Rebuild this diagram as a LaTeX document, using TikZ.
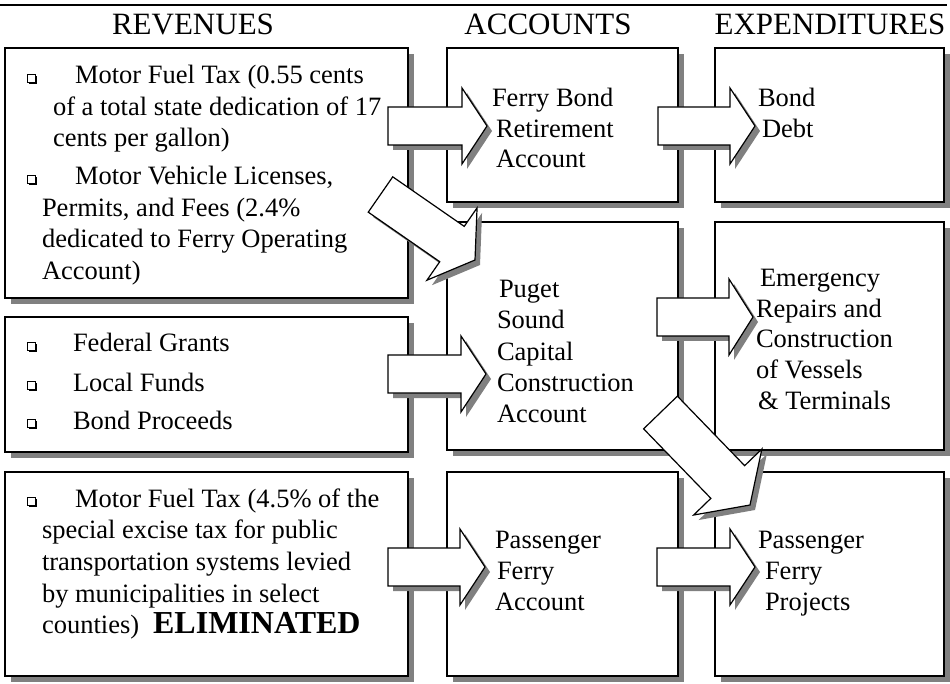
\documentclass[tikz,border=0pt]{standalone}
\usepackage{fontspec}
\setmainfont{Liberation Serif}
\usetikzlibrary{calc}
\definecolor{shadowgray}{RGB}{128,128,128}

% Block arrow from a tail midpoint to a tip:
% #1 id, #2 tail, #3 tip, #4 shaft half width, #5 head half width, #6 head length
\newcommand\blockarrow[6]{%
  \coordinate (#1b) at ($(#3)!#6!(#2)$);
  \path[arrowbody]
    ($(#2)!#4!90:(#3)$) -- ($(#1b)!#4!90:(#3)$) -- ($(#1b)!#5!90:(#3)$) --
    (#3) --
    ($(#1b)!#5!-90:(#3)$) -- ($(#1b)!#4!-90:(#3)$) -- ($(#2)!#4!-90:(#3)$) -- cycle;
}

\begin{document}
\begin{tikzpicture}[x=1pt, y=-1pt,
  every node/.style={inner sep=0pt, outer sep=0pt},
  castshadow/.style={preaction={fill=shadowgray, draw=none,
      transform canvas={shift={(#1,-#1)}}}},
  panel/.style={draw, line width=1.4pt, fill=white, rectangle, castshadow=6pt},
  arrowbody/.style={draw, fill=white, line width=1.2pt, line join=miter, castshadow=5pt},
  hdr/.style={anchor=base, font=\fontsize{31}{36}\selectfont},
  txt/.style={anchor=base west, font=\fontsize{26.5}{30}\selectfont},
  chkbox/.pic={
    \fill[black] (1.6,-8.4) rectangle (9.6,-0.4);
    \draw[fill=white, line width=0.7pt] (0,-10) rectangle (8,-2);
  }]
\useasboundingbox (0,0) rectangle (950,684);

% rule and column headings
\draw[line width=2pt] (0,5) -- (947,5);
\node[hdr] (hrev) at (193,35) {REVENUES};
\node[hdr] (hacc) at (548,35) {ACCOUNTS};
\node[hdr] (hexp) at (830,35) {EXPENDITURES};

% revenue panels
\node[panel, minimum width=403pt, minimum height=250pt] (rev1) at (206.5,173) {};
\node[panel, minimum width=403pt, minimum height=135pt] (rev2) at (206.5,384.5) {};
\node[panel, minimum width=403pt, minimum height=204pt] (rev3) at (206.5,574) {};
% account panels
\node[panel, minimum width=231pt, minimum height=154pt] (acc1) at (562.5,125) {};
\node[panel, minimum width=231pt, minimum height=228pt] (acc2) at (562.5,336) {};
\node[panel, minimum width=231pt, minimum height=204pt] (acc3) at (562.5,574) {};
% expenditure panels
\node[panel, minimum width=229pt, minimum height=154pt] (exp1) at (829.5,125) {};
\node[panel, minimum width=229pt, minimum height=228pt] (exp2) at (829.5,336) {};
\node[panel, minimum width=229pt, minimum height=204pt] (exp3) at (829.5,574) {};

% revenue texts
\pic (ck1) at (27,84) {chkbox};
\node[txt] (r1a) at (75,84) {Motor Fuel Tax (0.55 cents};
\node[txt] (r1b) at (53,116) {of a total state dedication of 17};
\node[txt] (r1c) at (53,147) {cents per gallon)};
\pic (ck2) at (27,185) {chkbox};
\node[txt] (r1d) at (75,185) {Motor Vehicle Licenses,};
\node[txt] (r1e) at (42,217) {Permits, and Fees (2.4\%};
\node[txt] (r1f) at (42,248) {dedicated to Ferry Operating};
\node[txt] (r1g) at (42,280) {Account)};

\pic (ck3) at (27,352) {chkbox};
\node[txt] (r2a) at (73,352) {Federal Grants};
\pic (ck4) at (27,391) {chkbox};
\node[txt] (r2b) at (73,391) {Local Funds};
\pic (ck5) at (27,429) {chkbox};
\node[txt] (r2c) at (73,429) {Bond Proceeds};

\pic (ck6) at (27,507) {chkbox};
\node[txt] (r3a) at (75,507) {Motor Fuel Tax (4.5\% of the};
\node[txt] (r3b) at (42,538) {special excise tax for public};
\node[txt] (r3c) at (42,570) {transportation systems levied};
\node[txt] (r3d) at (42,602) {by municipalities in select};
\node[txt] (r3e) at (42,633) {counties)\hspace{14pt}{\fontsize{32}{36}\selectfont\bfseries ELIMINATED}};

% account texts
\node[txt] (a1a) at (492,107) {Ferry Bond};
\node[txt] (a1b) at (496,138) {Retirement};
\node[txt] (a1c) at (496,168) {Account};
\node[txt] (a2a) at (499,298) {Puget};
\node[txt] (a2b) at (497,329) {Sound};
\node[txt] (a2c) at (497,360) {Capital};
\node[txt] (a2d) at (497,391) {Construction};
\node[txt] (a2e) at (497,422) {Account};
\node[txt] (a3a) at (495,548) {Passenger};
\node[txt] (a3b) at (497,579) {Ferry};
\node[txt] (a3c) at (495,610) {Account};

% expenditure texts
\node[txt] (e1a) at (758,107) {Bond};
\node[txt] (e1b) at (762,138) {Debt};
\node[txt] (e2a) at (760,287) {Emergency};
\node[txt] (e2b) at (756,318) {Repairs and};
\node[txt] (e2c) at (756,348) {Construction};
\node[txt] (e2d) at (756,378) {of Vessels};
\node[txt] (e2e) at (758,409) {\& Terminals};
\node[txt] (e3a) at (758,548) {Passenger};
\node[txt] (e3b) at (765,579) {Ferry};
\node[txt] (e3c) at (765,610) {Projects};

% arrow ends
\coordinate (t1) at (388,126);   \coordinate (p1) at (487,126);
\coordinate (t2) at (658,126);   \coordinate (p2) at (755,126);
\coordinate (t3) at (388,374);   \coordinate (p3) at (486,374);
\coordinate (t4) at (657,317);   \coordinate (p4) at (753,317);
\coordinate (t5) at (388,567);   \coordinate (p5) at (485,567);
\coordinate (t6) at (657,567);   \coordinate (p6) at (755,567);
\coordinate (t7) at (380.5,194.5); \coordinate (p7) at (475,260);
\coordinate (t8) at (660.5,412.5); \coordinate (p8) at (750,505);

% block arrows
\blockarrow{ba1}{t1}{p1}{19pt}{38pt}{25pt}
\blockarrow{ba2}{t2}{p2}{19pt}{38pt}{25pt}
\blockarrow{ba3}{t3}{p3}{19pt}{38pt}{25pt}
\blockarrow{ba4}{t4}{p4}{19pt}{38pt}{24pt}
\blockarrow{ba5}{t5}{p5}{19pt}{38pt}{25pt}
\blockarrow{ba6}{t6}{p6}{19pt}{38pt}{25pt}
\blockarrow{ba7}{t7}{p7}{21.5pt}{44pt}{28pt}
\blockarrow{ba8}{t8}{p8}{23.5pt}{47.5pt}{32pt}
\end{tikzpicture}
\end{document}
